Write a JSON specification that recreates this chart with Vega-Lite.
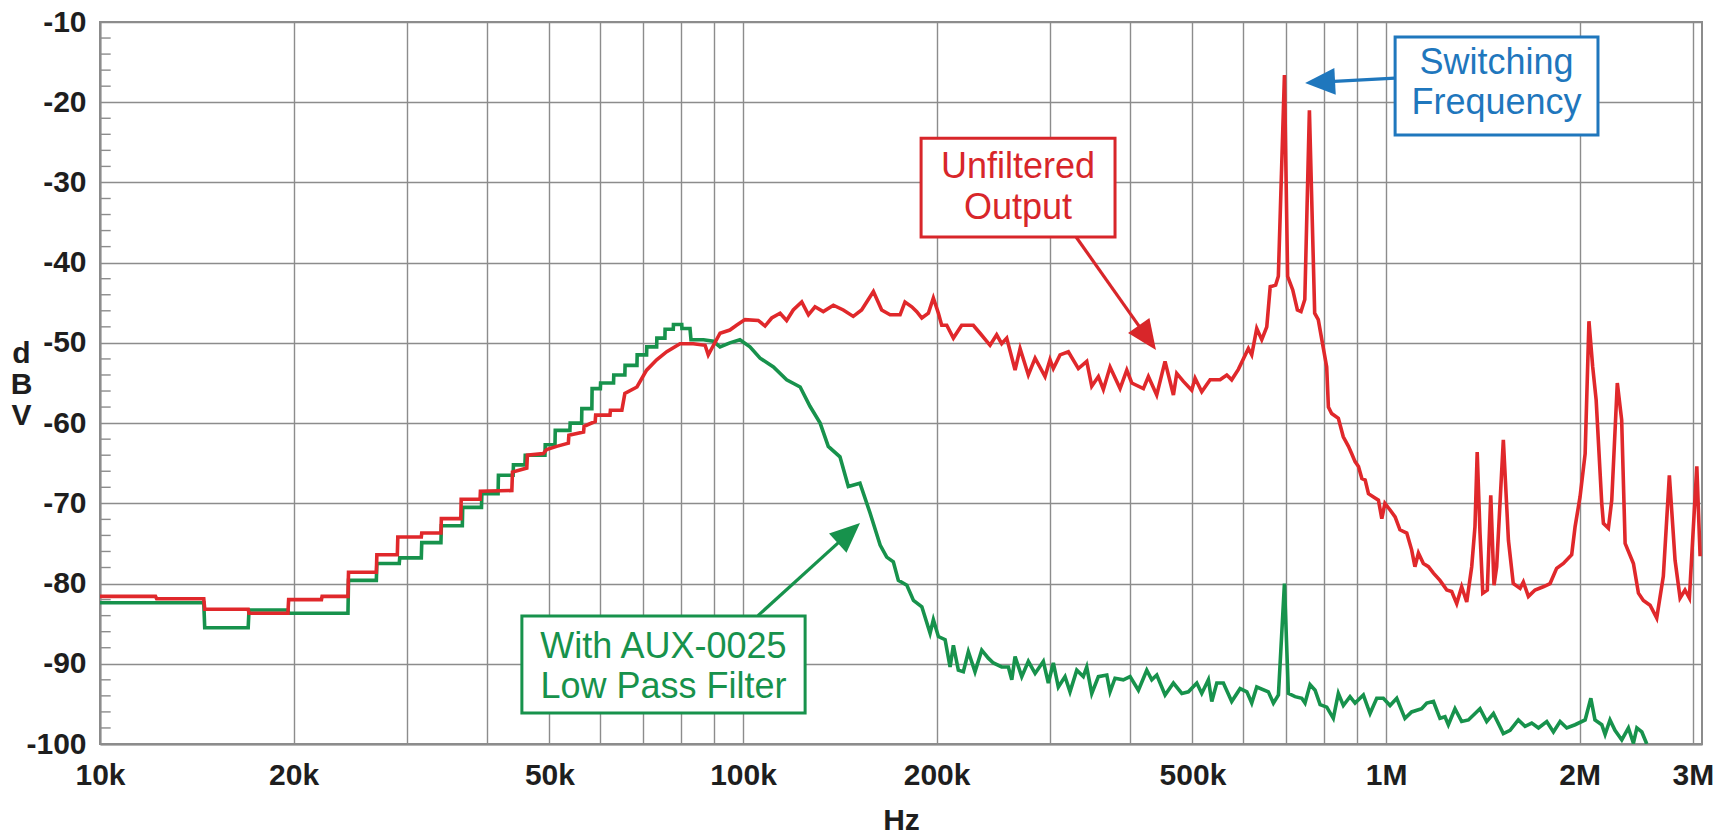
{
  "$schema": "https://vega.github.io/schema/vega-lite/v6.json",
  "width": 1602,
  "height": 722,
  "autosize": {"type": "none"},
  "padding": {"left": 100, "top": 22, "right": 19, "bottom": 93},
  "background": "white",
  "data": {"values": [{}]},
  "config": {
    "font": "Liberation Sans",
    "view": {"stroke": "#8c8c8c", "strokeWidth": 2},
    "axis": {
      "gridColor": "#8c8c8c",
      "gridWidth": 1.4,
      "domainColor": "#8c8c8c",
      "domainWidth": 2,
      "ticks": false,
      "tickSize": 0,
      "labelFont": "Liberation Sans",
      "labelFontWeight": "bold",
      "labelFontSize": 30,
      "labelColor": "#1e1e1e",
      "labelOverlap": false,
      "labelFlush": false,
      "titleFont": "Liberation Sans",
      "titleFontWeight": "bold",
      "titleFontSize": 30,
      "titleColor": "#1e1e1e"
    }
  },
  "datasets": {
    "filtered": [
      {"hz": 10000, "dbv": -82.4}, {"hz": 14500, "dbv": -82.4}, {"hz": 14550, "dbv": -85.5}, {"hz": 17000, "dbv": -85.5},
      {"hz": 17050, "dbv": -83.3}, {"hz": 19600, "dbv": -83.3}, {"hz": 19650, "dbv": -83.7}, {"hz": 24300, "dbv": -83.7},
      {"hz": 24350, "dbv": -79.6}, {"hz": 26900, "dbv": -79.6}, {"hz": 26950, "dbv": -77.5}, {"hz": 29200, "dbv": -77.5},
      {"hz": 29250, "dbv": -76.8}, {"hz": 31600, "dbv": -76.8}, {"hz": 31650, "dbv": -74.9}, {"hz": 33900, "dbv": -74.9},
      {"hz": 33950, "dbv": -72.8}, {"hz": 36600, "dbv": -72.8}, {"hz": 36650, "dbv": -70.5}, {"hz": 39200, "dbv": -70.5},
      {"hz": 39250, "dbv": -68.8}, {"hz": 41600, "dbv": -68.8}, {"hz": 41650, "dbv": -66.5}, {"hz": 43900, "dbv": -66.5},
      {"hz": 43950, "dbv": -65.2}, {"hz": 45800, "dbv": -65.2}, {"hz": 45850, "dbv": -64.0}, {"hz": 49200, "dbv": -64.0},
      {"hz": 49250, "dbv": -62.7}, {"hz": 51000, "dbv": -62.7}, {"hz": 51050, "dbv": -60.9}, {"hz": 53800, "dbv": -60.9},
      {"hz": 53850, "dbv": -60.0}, {"hz": 56100, "dbv": -60.0}, {"hz": 56150, "dbv": -58.2}, {"hz": 58200, "dbv": -58.2},
      {"hz": 58250, "dbv": -55.7}, {"hz": 60000, "dbv": -55.7}, {"hz": 60050, "dbv": -55.0}, {"hz": 62900, "dbv": -55.0},
      {"hz": 62950, "dbv": -54.0}, {"hz": 65500, "dbv": -54.0}, {"hz": 65550, "dbv": -52.8}, {"hz": 68400, "dbv": -52.8},
      {"hz": 68450, "dbv": -51.5}, {"hz": 70800, "dbv": -51.5}, {"hz": 70850, "dbv": -50.5}, {"hz": 73400, "dbv": -50.5},
      {"hz": 73450, "dbv": -49.4}, {"hz": 75600, "dbv": -49.4}, {"hz": 75650, "dbv": -48.3}, {"hz": 77900, "dbv": -48.3},
      {"hz": 77950, "dbv": -47.7}, {"hz": 80300, "dbv": -47.7}, {"hz": 80350, "dbv": -48.2}, {"hz": 82700, "dbv": -48.2},
      {"hz": 83000, "dbv": -49.6}, {"hz": 86800, "dbv": -49.6}, {"hz": 89900, "dbv": -49.8}, {"hz": 92100, "dbv": -50.5},
      {"hz": 95400, "dbv": -50.0}, {"hz": 98900, "dbv": -49.6}, {"hz": 102500, "dbv": -50.5}, {"hz": 106300, "dbv": -51.9},
      {"hz": 111500, "dbv": -53.0}, {"hz": 116900, "dbv": -54.6}, {"hz": 122700, "dbv": -55.5}, {"hz": 127100, "dbv": -57.9},
      {"hz": 131800, "dbv": -60.0}, {"hz": 135700, "dbv": -62.9}, {"hz": 141500, "dbv": -64.2}, {"hz": 145800, "dbv": -67.9},
      {"hz": 152000, "dbv": -67.5}, {"hz": 157600, "dbv": -71.2}, {"hz": 163400, "dbv": -75.2}, {"hz": 167300, "dbv": -76.7},
      {"hz": 171300, "dbv": -77.3}, {"hz": 174400, "dbv": -79.6}, {"hz": 179800, "dbv": -80.2}, {"hz": 184100, "dbv": -82.1},
      {"hz": 189700, "dbv": -82.9}, {"hz": 195400, "dbv": -86.2}, {"hz": 197700, "dbv": -84.5}, {"hz": 201300, "dbv": -86.6},
      {"hz": 206200, "dbv": -87.0}, {"hz": 209900, "dbv": -90.4}, {"hz": 212400, "dbv": -87.7}, {"hz": 216200, "dbv": -90.8},
      {"hz": 220100, "dbv": -91.0}, {"hz": 224100, "dbv": -88.5}, {"hz": 229500, "dbv": -91.0}, {"hz": 235100, "dbv": -88.3},
      {"hz": 240700, "dbv": -89.3}, {"hz": 245100, "dbv": -89.9}, {"hz": 252500, "dbv": -90.4}, {"hz": 258600, "dbv": -90.4},
      {"hz": 261800, "dbv": -92.0}, {"hz": 264900, "dbv": -89.1}, {"hz": 271300, "dbv": -91.6}, {"hz": 277800, "dbv": -89.7},
      {"hz": 284600, "dbv": -91.2}, {"hz": 293100, "dbv": -89.7}, {"hz": 298400, "dbv": -92.4}, {"hz": 303800, "dbv": -89.9},
      {"hz": 309300, "dbv": -92.9}, {"hz": 316800, "dbv": -91.6}, {"hz": 322500, "dbv": -93.5}, {"hz": 330400, "dbv": -90.8},
      {"hz": 338200, "dbv": -91.6}, {"hz": 342400, "dbv": -90.4}, {"hz": 348600, "dbv": -93.7}, {"hz": 357000, "dbv": -91.6},
      {"hz": 367900, "dbv": -91.4}, {"hz": 372200, "dbv": -93.5}, {"hz": 378900, "dbv": -91.8}, {"hz": 390300, "dbv": -92.0},
      {"hz": 399900, "dbv": -91.6}, {"hz": 412000, "dbv": -93.3}, {"hz": 424500, "dbv": -90.8}, {"hz": 432200, "dbv": -92.0},
      {"hz": 440000, "dbv": -91.4}, {"hz": 453300, "dbv": -93.9}, {"hz": 467000, "dbv": -92.4}, {"hz": 481300, "dbv": -93.7},
      {"hz": 492700, "dbv": -93.5}, {"hz": 507800, "dbv": -92.4}, {"hz": 516900, "dbv": -93.7}, {"hz": 529300, "dbv": -92.0},
      {"hz": 535800, "dbv": -94.7}, {"hz": 545500, "dbv": -92.4}, {"hz": 558500, "dbv": -92.4}, {"hz": 575400, "dbv": -94.7},
      {"hz": 592900, "dbv": -93.1}, {"hz": 607500, "dbv": -93.5}, {"hz": 618200, "dbv": -94.9}, {"hz": 629400, "dbv": -92.9},
      {"hz": 656100, "dbv": -93.5}, {"hz": 668100, "dbv": -94.9}, {"hz": 680200, "dbv": -93.9}, {"hz": 695000, "dbv": -80.0},
      {"hz": 704900, "dbv": -93.7}, {"hz": 722000, "dbv": -94.1}, {"hz": 739500, "dbv": -94.3}, {"hz": 748200, "dbv": -94.9},
      {"hz": 761800, "dbv": -92.6}, {"hz": 775600, "dbv": -93.3}, {"hz": 789700, "dbv": -95.1}, {"hz": 808800, "dbv": -95.4},
      {"hz": 827900, "dbv": -96.8}, {"hz": 843000, "dbv": -93.7}, {"hz": 858200, "dbv": -95.2}, {"hz": 879000, "dbv": -94.1},
      {"hz": 895000, "dbv": -94.9}, {"hz": 922000, "dbv": -93.9}, {"hz": 944400, "dbv": -96.2}, {"hz": 967200, "dbv": -94.3},
      {"hz": 990400, "dbv": -94.3}, {"hz": 1014400, "dbv": -95.2}, {"hz": 1039000, "dbv": -94.3}, {"hz": 1070000, "dbv": -96.8},
      {"hz": 1096000, "dbv": -96.0}, {"hz": 1136000, "dbv": -95.6}, {"hz": 1157000, "dbv": -94.9}, {"hz": 1185000, "dbv": -94.7},
      {"hz": 1213000, "dbv": -96.8}, {"hz": 1235000, "dbv": -96.6}, {"hz": 1250000, "dbv": -97.6}, {"hz": 1280000, "dbv": -95.6},
      {"hz": 1311000, "dbv": -97.2}, {"hz": 1343000, "dbv": -97.0}, {"hz": 1400000, "dbv": -95.6}, {"hz": 1434000, "dbv": -97.2},
      {"hz": 1469000, "dbv": -96.2}, {"hz": 1522000, "dbv": -98.7}, {"hz": 1559000, "dbv": -98.3}, {"hz": 1606000, "dbv": -97.0},
      {"hz": 1645000, "dbv": -97.8}, {"hz": 1685000, "dbv": -97.4}, {"hz": 1726000, "dbv": -98.0}, {"hz": 1778000, "dbv": -97.2},
      {"hz": 1821000, "dbv": -98.5}, {"hz": 1865000, "dbv": -97.2}, {"hz": 1910000, "dbv": -98.0}, {"hz": 1968000, "dbv": -97.6},
      {"hz": 2040000, "dbv": -97.0}, {"hz": 2082000, "dbv": -94.3}, {"hz": 2113000, "dbv": -97.0}, {"hz": 2165000, "dbv": -97.6},
      {"hz": 2191000, "dbv": -98.8}, {"hz": 2230000, "dbv": -97.0}, {"hz": 2270000, "dbv": -98.3}, {"hz": 2326000, "dbv": -99.5},
      {"hz": 2382000, "dbv": -98.0}, {"hz": 2425000, "dbv": -99.9}, {"hz": 2455000, "dbv": -98.0}, {"hz": 2499000, "dbv": -98.5},
      {"hz": 2544000, "dbv": -100.0}
    ],
    "unfiltered": [
      {"hz": 10000, "dbv": -81.6}, {"hz": 12200, "dbv": -81.6}, {"hz": 12250, "dbv": -81.9}, {"hz": 14500, "dbv": -81.9},
      {"hz": 14550, "dbv": -83.2}, {"hz": 17000, "dbv": -83.2}, {"hz": 17050, "dbv": -83.7}, {"hz": 19600, "dbv": -83.7},
      {"hz": 19650, "dbv": -82.0}, {"hz": 22100, "dbv": -82.0}, {"hz": 22150, "dbv": -81.6}, {"hz": 24300, "dbv": -81.6},
      {"hz": 24350, "dbv": -78.6}, {"hz": 26900, "dbv": -78.6}, {"hz": 26950, "dbv": -76.4}, {"hz": 29000, "dbv": -76.4},
      {"hz": 29050, "dbv": -74.2}, {"hz": 31600, "dbv": -74.2}, {"hz": 31650, "dbv": -73.7}, {"hz": 33900, "dbv": -73.7},
      {"hz": 33950, "dbv": -71.9}, {"hz": 36400, "dbv": -71.9}, {"hz": 36450, "dbv": -69.5}, {"hz": 39000, "dbv": -69.5},
      {"hz": 39050, "dbv": -68.5}, {"hz": 43700, "dbv": -68.4}, {"hz": 43800, "dbv": -66.1}, {"hz": 46100, "dbv": -65.6},
      {"hz": 46200, "dbv": -64.0}, {"hz": 48900, "dbv": -63.8}, {"hz": 49500, "dbv": -63.3}, {"hz": 51300, "dbv": -62.9},
      {"hz": 53500, "dbv": -62.5}, {"hz": 53600, "dbv": -61.5}, {"hz": 56500, "dbv": -61.1}, {"hz": 56600, "dbv": -60.4},
      {"hz": 58900, "dbv": -59.8}, {"hz": 59000, "dbv": -59.0}, {"hz": 62100, "dbv": -59.0}, {"hz": 62200, "dbv": -58.4},
      {"hz": 64800, "dbv": -58.4}, {"hz": 65500, "dbv": -56.3}, {"hz": 68400, "dbv": -55.5}, {"hz": 70800, "dbv": -53.4},
      {"hz": 73400, "dbv": -52.1}, {"hz": 76100, "dbv": -51.1}, {"hz": 79800, "dbv": -50.1}, {"hz": 83700, "dbv": -50.1},
      {"hz": 87300, "dbv": -50.3}, {"hz": 88300, "dbv": -51.5}, {"hz": 89400, "dbv": -50.7}, {"hz": 92100, "dbv": -48.8},
      {"hz": 95400, "dbv": -48.4}, {"hz": 97700, "dbv": -47.8}, {"hz": 100700, "dbv": -47.1}, {"hz": 105600, "dbv": -47.2},
      {"hz": 108200, "dbv": -47.9}, {"hz": 110800, "dbv": -46.9}, {"hz": 114200, "dbv": -46.3}, {"hz": 116900, "dbv": -47.2},
      {"hz": 119700, "dbv": -45.9}, {"hz": 123400, "dbv": -44.9}, {"hz": 126400, "dbv": -46.5}, {"hz": 129400, "dbv": -45.5},
      {"hz": 133300, "dbv": -46.1}, {"hz": 138200, "dbv": -45.3}, {"hz": 143200, "dbv": -45.9}, {"hz": 148400, "dbv": -46.7},
      {"hz": 152900, "dbv": -45.9}, {"hz": 159500, "dbv": -43.6}, {"hz": 164300, "dbv": -45.9}, {"hz": 169300, "dbv": -46.5},
      {"hz": 175500, "dbv": -46.5}, {"hz": 178600, "dbv": -44.9}, {"hz": 183000, "dbv": -45.5}, {"hz": 186300, "dbv": -46.1},
      {"hz": 189700, "dbv": -46.9}, {"hz": 194200, "dbv": -46.3}, {"hz": 197700, "dbv": -44.4}, {"hz": 201300, "dbv": -46.3},
      {"hz": 203700, "dbv": -47.8}, {"hz": 207400, "dbv": -47.8}, {"hz": 212400, "dbv": -49.4}, {"hz": 218800, "dbv": -47.8},
      {"hz": 228100, "dbv": -47.8}, {"hz": 233700, "dbv": -48.8}, {"hz": 242200, "dbv": -50.3}, {"hz": 248000, "dbv": -49.0},
      {"hz": 252500, "dbv": -50.1}, {"hz": 257100, "dbv": -49.4}, {"hz": 264900, "dbv": -53.4}, {"hz": 269700, "dbv": -50.7},
      {"hz": 277800, "dbv": -54.0}, {"hz": 284600, "dbv": -51.9}, {"hz": 294900, "dbv": -54.2}, {"hz": 300200, "dbv": -52.1},
      {"hz": 303800, "dbv": -53.2}, {"hz": 311200, "dbv": -51.5}, {"hz": 320600, "dbv": -51.1}, {"hz": 332300, "dbv": -53.2},
      {"hz": 342400, "dbv": -52.3}, {"hz": 348600, "dbv": -55.4}, {"hz": 357000, "dbv": -54.2}, {"hz": 363400, "dbv": -55.8},
      {"hz": 372200, "dbv": -53.0}, {"hz": 385800, "dbv": -55.7}, {"hz": 395200, "dbv": -53.4}, {"hz": 402300, "dbv": -55.0},
      {"hz": 419400, "dbv": -55.7}, {"hz": 427000, "dbv": -54.2}, {"hz": 439900, "dbv": -56.5}, {"hz": 453200, "dbv": -52.3},
      {"hz": 467000, "dbv": -56.5}, {"hz": 472600, "dbv": -53.8}, {"hz": 484000, "dbv": -54.8}, {"hz": 498600, "dbv": -55.9},
      {"hz": 504700, "dbv": -54.4}, {"hz": 516900, "dbv": -56.1}, {"hz": 532600, "dbv": -54.6}, {"hz": 552000, "dbv": -54.6},
      {"hz": 565400, "dbv": -54.0}, {"hz": 575400, "dbv": -54.6}, {"hz": 589300, "dbv": -53.3}, {"hz": 610800, "dbv": -50.7},
      {"hz": 618200, "dbv": -51.5}, {"hz": 629400, "dbv": -48.2}, {"hz": 640800, "dbv": -49.6}, {"hz": 652400, "dbv": -48.0},
      {"hz": 660500, "dbv": -43.0}, {"hz": 673500, "dbv": -42.8}, {"hz": 680000, "dbv": -41.7}, {"hz": 695000, "dbv": -16.6},
      {"hz": 703000, "dbv": -41.7}, {"hz": 716000, "dbv": -43.4}, {"hz": 728000, "dbv": -45.9}, {"hz": 737500, "dbv": -46.1},
      {"hz": 747600, "dbv": -44.6}, {"hz": 760000, "dbv": -21.0}, {"hz": 774500, "dbv": -46.3}, {"hz": 784500, "dbv": -47.1},
      {"hz": 808500, "dbv": -53.0}, {"hz": 813500, "dbv": -58.0}, {"hz": 823000, "dbv": -58.8}, {"hz": 843000, "dbv": -59.4},
      {"hz": 858000, "dbv": -61.7}, {"hz": 874000, "dbv": -62.9}, {"hz": 884000, "dbv": -63.8}, {"hz": 895000, "dbv": -64.8},
      {"hz": 906000, "dbv": -65.4}, {"hz": 917000, "dbv": -66.9}, {"hz": 928000, "dbv": -67.1}, {"hz": 939000, "dbv": -68.8},
      {"hz": 956000, "dbv": -69.2}, {"hz": 973000, "dbv": -69.6}, {"hz": 985000, "dbv": -71.9}, {"hz": 996000, "dbv": -70.0},
      {"hz": 1014000, "dbv": -70.8}, {"hz": 1033000, "dbv": -71.7}, {"hz": 1051000, "dbv": -73.3}, {"hz": 1077000, "dbv": -73.7},
      {"hz": 1096000, "dbv": -75.8}, {"hz": 1109000, "dbv": -77.9}, {"hz": 1123000, "dbv": -76.2}, {"hz": 1143000, "dbv": -77.5},
      {"hz": 1164000, "dbv": -77.9}, {"hz": 1185000, "dbv": -78.7}, {"hz": 1213000, "dbv": -79.6}, {"hz": 1243000, "dbv": -80.8},
      {"hz": 1265000, "dbv": -81.0}, {"hz": 1288000, "dbv": -82.5}, {"hz": 1311000, "dbv": -80.4}, {"hz": 1335000, "dbv": -82.3},
      {"hz": 1359000, "dbv": -77.9}, {"hz": 1375000, "dbv": -72.9}, {"hz": 1386000, "dbv": -63.6}, {"hz": 1400000, "dbv": -73.7},
      {"hz": 1414000, "dbv": -81.2}, {"hz": 1437000, "dbv": -80.8}, {"hz": 1455000, "dbv": -69.0}, {"hz": 1472000, "dbv": -80.2},
      {"hz": 1486000, "dbv": -77.9}, {"hz": 1522000, "dbv": -62.1}, {"hz": 1550000, "dbv": -74.6}, {"hz": 1577000, "dbv": -80.0},
      {"hz": 1616000, "dbv": -80.6}, {"hz": 1635000, "dbv": -79.8}, {"hz": 1665000, "dbv": -81.6}, {"hz": 1705000, "dbv": -80.8},
      {"hz": 1756000, "dbv": -80.4}, {"hz": 1799000, "dbv": -80.0}, {"hz": 1842000, "dbv": -78.1}, {"hz": 1887000, "dbv": -77.5},
      {"hz": 1944000, "dbv": -76.4}, {"hz": 1968000, "dbv": -72.9}, {"hz": 2003000, "dbv": -69.2}, {"hz": 2040000, "dbv": -63.8},
      {"hz": 2068000, "dbv": -47.3}, {"hz": 2096000, "dbv": -53.0}, {"hz": 2122000, "dbv": -57.1}, {"hz": 2165000, "dbv": -70.0},
      {"hz": 2178000, "dbv": -72.5}, {"hz": 2217000, "dbv": -73.1}, {"hz": 2244000, "dbv": -69.6}, {"hz": 2289000, "dbv": -55.0},
      {"hz": 2325000, "dbv": -59.6}, {"hz": 2354000, "dbv": -75.0}, {"hz": 2425000, "dbv": -77.5}, {"hz": 2469000, "dbv": -81.2},
      {"hz": 2513000, "dbv": -82.1}, {"hz": 2574000, "dbv": -82.7}, {"hz": 2636000, "dbv": -84.3}, {"hz": 2699000, "dbv": -79.1},
      {"hz": 2758000, "dbv": -66.5}, {"hz": 2815000, "dbv": -77.1}, {"hz": 2866000, "dbv": -81.8}, {"hz": 2917000, "dbv": -80.8},
      {"hz": 2963000, "dbv": -81.8}, {"hz": 3006000, "dbv": -72.9}, {"hz": 3043000, "dbv": -65.4}, {"hz": 3079000, "dbv": -76.6}
    ],
    "minorTicks": [
      {"dbv": -12}, {"dbv": -14}, {"dbv": -16}, {"dbv": -18}, {"dbv": -22}, {"dbv": -24}, {"dbv": -26}, {"dbv": -28},
      {"dbv": -32}, {"dbv": -34}, {"dbv": -36}, {"dbv": -38}, {"dbv": -42}, {"dbv": -44}, {"dbv": -46}, {"dbv": -48},
      {"dbv": -52}, {"dbv": -54}, {"dbv": -56}, {"dbv": -58}, {"dbv": -62}, {"dbv": -64}, {"dbv": -66}, {"dbv": -68},
      {"dbv": -72}, {"dbv": -74}, {"dbv": -76}, {"dbv": -78}, {"dbv": -82}, {"dbv": -84}, {"dbv": -86}, {"dbv": -88},
      {"dbv": -92}, {"dbv": -94}, {"dbv": -96}, {"dbv": -98}
    ]
  },
  "layer": [
    {
      "data": {"name": "filtered"},
      "mark": {"type": "line", "color": "#17924c", "strokeWidth": 3.6, "clip": true},
      "encoding": {
        "x": {
          "field": "hz", "type": "quantitative",
          "scale": {"type": "log", "domain": [10000, 3100000], "nice": false},
          "axis": {
            "values": [10000, 20000, 30000, 40000, 50000, 60000, 70000, 80000, 90000, 100000, 200000, 300000, 400000, 500000, 600000, 700000, 800000, 900000, 1000000, 2000000, 3000000],
            "labelExpr": "indexof([10000, 20000, 50000, 100000, 200000, 500000, 1000000, 2000000, 3000000], datum.value) >= 0 ? (datum.value >= 1000000 ? (datum.value / 1000000) + 'M' : (datum.value / 1000) + 'k') : ''",
            "labelBaseline": "alphabetic",
            "labelPadding": 40,
            "grid": true,
            "title": "Hz",
            "titleBaseline": "alphabetic",
            "titleY": 85
          }
        },
        "y": {
          "field": "dbv", "type": "quantitative",
          "scale": {"domain": [-100, -10], "nice": false, "zero": false},
          "axis": {
            "values": [-100, -90, -80, -70, -60, -50, -40, -30, -20, -10],
            "labelExpr": "'' + datum.value",
            "labelPadding": 14,
            "grid": true,
            "title": ["d", "B", "V"],
            "titleAngle": 0,
            "titleAlign": "center",
            "titleBaseline": "alphabetic",
            "titleX": -79,
            "titleY": 340,
            "titleLineHeight": 31
          }
        }
      }
    },
    {
      "data": {"name": "unfiltered"},
      "mark": {"type": "line", "color": "#e0282b", "strokeWidth": 3.6, "clip": true},
      "encoding": {
        "x": {"field": "hz", "type": "quantitative"},
        "y": {"field": "dbv", "type": "quantitative"}
      }
    },
    {
      "data": {"name": "minorTicks"},
      "mark": {"type": "rule", "color": "#8c8c8c", "strokeWidth": 1.4},
      "encoding": {
        "x": {"datum": 10000, "type": "quantitative"},
        "x2": {"datum": 10390},
        "y": {"field": "dbv", "type": "quantitative"}
      }
    },
    {
      "mark": {"type": "rule", "color": "#d8262a", "strokeWidth": 3.2},
      "encoding": {
        "x": {"datum": 329600, "type": "quantitative"},
        "x2": {"datum": 425400},
        "y": {"datum": -36.8, "type": "quantitative"},
        "y2": {"datum": -49.37}
      }
    },
    {
      "mark": {"type": "point", "shape": "M0,-1L0.87,1L-0.87,1Z", "filled": true, "color": "#d8262a", "size": 900, "angle": 145, "opacity": 1},
      "encoding": {
        "x": {"datum": 425400, "type": "quantitative"},
        "y": {"datum": -49.37, "type": "quantitative"}
      }
    },
    {
      "mark": {"type": "rect", "fill": "white", "stroke": "#d8262a", "strokeWidth": 3},
      "encoding": {
        "x": {"datum": 189200, "type": "quantitative"},
        "x2": {"datum": 378900},
        "y": {"datum": -24.5, "type": "quantitative"},
        "y2": {"datum": -36.8}
      }
    },
    {
      "mark": {"type": "text", "text": ["Unfiltered", "Output"], "font": "Liberation Sans", "fontSize": 36, "lineHeight": 41, "color": "#d8262a", "align": "center", "baseline": "middle"},
      "encoding": {
        "x": {"datum": 267700, "type": "quantitative"},
        "y": {"datum": -28.1, "type": "quantitative"}
      }
    },
    {
      "mark": {"type": "rule", "color": "#17924c", "strokeWidth": 3.2},
      "encoding": {
        "x": {"datum": 105500, "type": "quantitative"},
        "x2": {"datum": 146100},
        "y": {"datum": -84.0, "type": "quantitative"},
        "y2": {"datum": -73.71}
      }
    },
    {
      "mark": {"type": "point", "shape": "M0,-1L0.87,1L-0.87,1Z", "filled": true, "color": "#17924c", "size": 900, "angle": 48, "opacity": 1},
      "encoding": {
        "x": {"datum": 146100, "type": "quantitative"},
        "y": {"datum": -73.71, "type": "quantitative"}
      }
    },
    {
      "mark": {"type": "rect", "fill": "white", "stroke": "#17924c", "strokeWidth": 3},
      "encoding": {
        "x": {"datum": 45300, "type": "quantitative"},
        "x2": {"datum": 124900},
        "y": {"datum": -84.05, "type": "quantitative"},
        "y2": {"datum": -96.14}
      }
    },
    {
      "mark": {"type": "text", "text": ["With AUX-0025", "Low Pass Filter"], "font": "Liberation Sans", "fontSize": 36, "lineHeight": 40, "color": "#17924c", "align": "center", "baseline": "middle"},
      "encoding": {
        "x": {"datum": 75200, "type": "quantitative"},
        "y": {"datum": -87.9, "type": "quantitative"}
      }
    },
    {
      "mark": {"type": "rule", "color": "#1f77bd", "strokeWidth": 3.2},
      "encoding": {
        "x": {"datum": 1033000, "type": "quantitative"},
        "x2": {"datum": 789600},
        "y": {"datum": -17.0, "type": "quantitative"},
        "y2": {"datum": -17.5}
      }
    },
    {
      "mark": {"type": "point", "shape": "M0,-1L0.9,1L-0.9,1Z", "filled": true, "color": "#1f77bd", "size": 900, "angle": 267, "opacity": 1},
      "encoding": {
        "x": {"datum": 789600, "type": "quantitative"},
        "y": {"datum": -17.5, "type": "quantitative"}
      }
    },
    {
      "mark": {"type": "rect", "fill": "white", "stroke": "#1f77bd", "strokeWidth": 3},
      "encoding": {
        "x": {"datum": 1033000, "type": "quantitative"},
        "x2": {"datum": 2136000},
        "y": {"datum": -11.87, "type": "quantitative"},
        "y2": {"datum": -24.09}
      }
    },
    {
      "mark": {"type": "text", "text": ["Switching", "Frequency"], "font": "Liberation Sans", "fontSize": 36, "lineHeight": 40, "color": "#1f77bd", "align": "center", "baseline": "middle"},
      "encoding": {
        "x": {"datum": 1485000, "type": "quantitative"},
        "y": {"datum": -15.1, "type": "quantitative"}
      }
    }
  ]
}
